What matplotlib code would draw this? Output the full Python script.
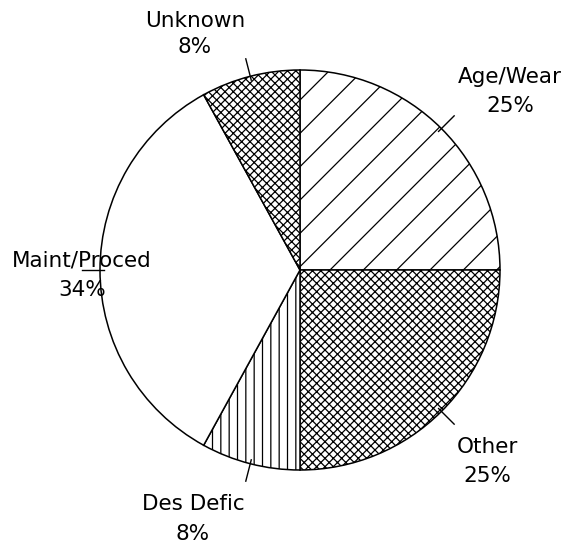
import numpy as np
import matplotlib
matplotlib.use('Agg')
import matplotlib.pyplot as plt

# Données du graphique
categories = ['Age/Wear', 'Other', 'Des Defic', 'Maint/Proced', 'Unknown']
percents = [25, 25, 8, 34, 8]
hatches = ['/', 'xxxx', '||', '', 'xxxx']

# Position des étiquettes (pixels, origine en haut à gauche): x, ligne nom, ligne %
label_pos = [(510, 83, 112), (487, 453, 482), (193, 510, 540),
             (82, 267, 296), (195, 27, 53)]

W, H = 568, 546
cx, cy, R = 300, 270, 200

plt.rcParams['font.family'] = ['DejaVu Sans']
plt.rcParams['hatch.linewidth'] = 0.9

fig = plt.figure(figsize=(W / 100, H / 100), dpi=100)
ax = fig.add_axes([0, 0, 1, 1])

wedges, _ = ax.pie(percents, startangle=90, counterclock=False,
                   center=(cx, H - cy), radius=R,
                   wedgeprops=dict(facecolor='white', edgecolor='black', linewidth=1.1),
                   frame=True)
ax.set_xlim(0, W)
ax.set_ylim(0, H)
ax.set_aspect('equal')
ax.axis('off')
for w, h in zip(wedges, hatches):
    w.set_hatch(h)

# Petits traits de repère au milieu de chaque secteur
for w in wedges:
    mid = np.deg2rad((w.theta1 + w.theta2) / 2)
    r1, r2 = R - 4, R + 18
    ax.plot([cx + r1 * np.cos(mid), cx + r2 * np.cos(mid)],
            [H - cy + r1 * np.sin(mid), H - cy + r2 * np.sin(mid)],
            color='black', linewidth=1.0)

# Étiquettes
for name, pct, (x, y1, y2) in zip(categories, percents, label_pos):
    ax.text(x, H - y1, name, ha='center', va='baseline', fontsize=15.5)
    ax.text(x, H - y2, f"{pct}%", ha='center', va='baseline', fontsize=15.5)

fig.savefig('out.png', dpi=100)
